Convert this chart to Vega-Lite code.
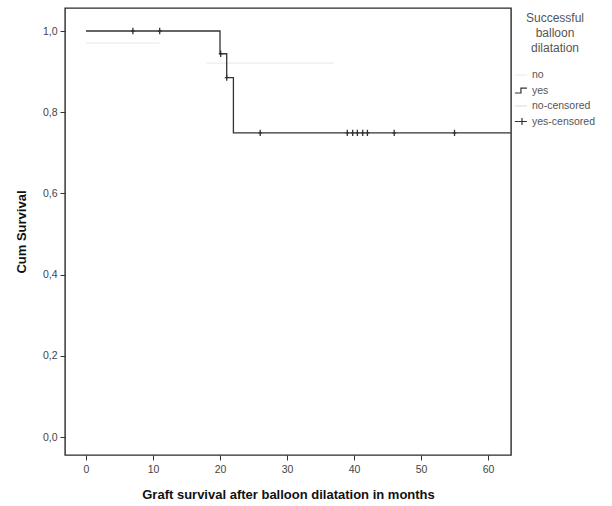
{
  "$schema": "https://vega.github.io/schema/vega-lite/v6.json",
  "width": 446,
  "height": 447,
  "autosize": "none",
  "padding": {"left": 65, "top": 8, "right": 101, "bottom": 51},
  "background": "white",
  "config": {
    "view": {"stroke": "#2a2a2a", "strokeWidth": 1.4},
    "font": "Liberation Sans",
    "axis": {"grid": false, "domain": false, "tickColor": "#333333", "tickSize": 5, "labelColor": "#444444", "labelFontSize": 10.5, "titleFontSize": 13, "titleFontWeight": "bold", "titleColor": "#111111"}
  },
  "datasets": {
    "steps": [
      {"series": "no", "t": 0, "s": 0.97, "seg": "a"},
      {"series": "no", "t": 11, "s": 0.97, "seg": "a"},
      {"series": "no", "t": 18, "s": 0.921, "seg": "b"},
      {"series": "no", "t": 37, "s": 0.921, "seg": "b"},
      {"series": "yes", "t": 0, "s": 1.0, "seg": "c"},
      {"series": "yes", "t": 20, "s": 0.944, "seg": "c"},
      {"series": "yes", "t": 21, "s": 0.885, "seg": "c"},
      {"series": "yes", "t": 22, "s": 0.749, "seg": "c"},
      {"series": "yes", "t": 63.4, "s": 0.749, "seg": "c"}
    ],
    "censored": [
      {"series": "yes-censored", "t": 7, "s": 1.0},
      {"series": "yes-censored", "t": 11, "s": 1.0},
      {"series": "yes-censored", "t": 20.1, "s": 0.944},
      {"series": "yes-censored", "t": 21, "s": 0.885},
      {"series": "yes-censored", "t": 26, "s": 0.749},
      {"series": "yes-censored", "t": 39, "s": 0.749},
      {"series": "yes-censored", "t": 39.8, "s": 0.749},
      {"series": "yes-censored", "t": 40.5, "s": 0.749},
      {"series": "yes-censored", "t": 41.3, "s": 0.749},
      {"series": "yes-censored", "t": 42, "s": 0.749},
      {"series": "yes-censored", "t": 46, "s": 0.749},
      {"series": "yes-censored", "t": 55, "s": 0.749}
    ]
  },
  "layer": [
    {
      "data": {"name": "steps"},
      "mark": {"type": "line", "interpolate": "step-after", "strokeWidth": 1.3, "clip": true},
      "encoding": {
        "x": {"field": "t", "type": "quantitative", "scale": {"domain": [-3.134, 63.43], "nice": false, "zero": false},
          "axis": {"values": [0, 10, 20, 30, 40, 50, 60], "title": "Graft survival after balloon dilatation in months", "titlePadding": 14, "labelPadding": 4}},
        "y": {"field": "s", "type": "quantitative", "scale": {"domain": [-0.0443, 1.0567], "nice": false, "zero": false},
          "axis": {"values": [0, 0.2, 0.4, 0.6, 0.8, 1.0], "labelExpr": "replace(format(datum.value, '.1f'), '.', ',')", "title": "Cum Survival", "titlePadding": 14, "labelPadding": 3}},
        "detail": {"field": "seg"},
        "stroke": {"field": "series", "type": "nominal",
          "scale": {"domain": ["no", "yes", "no-censored", "yes-censored"], "range": ["#ececec", "#333333", "#e0e0e0", "#333333"]},
          "legend": {
            "title": ["Successful", "balloon", "dilatation"],
            "orient": "none", "legendX": 449, "legendY": 5,
            "titleAnchor": "middle", "titleAlign": "center", "titleFontWeight": "normal", "titleFontSize": 12, "titleColor": "#555555", "titleLineHeight": 15, "titlePadding": 12,
            "labelFontSize": 10.5, "labelColor": "#555555", "labelOffset": 2,
            "symbolSize": 200, "symbolStrokeWidth": 1.2, "symbolFillColor": "transparent", "rowPadding": 1.5,
            "encode": {"symbols": {"update": {"shape": {"signal": "datum.value === 'yes' ? 'M-1,0.35H-0.15V-0.35H0.7' : (datum.value === 'yes-censored' ? 'M-1,0H0.7M0,-0.5V0.5' : 'M-1,0H0.7')"}}}}
          }}
      }
    },
    {
      "data": {"name": "censored"},
      "mark": {"type": "point", "shape": "M0,-1V1M-0.6,0H0.6", "filled": false, "size": 40, "strokeWidth": 1.3, "opacity": 1},
      "encoding": {
        "x": {"field": "t", "type": "quantitative"},
        "y": {"field": "s", "type": "quantitative"},
        "stroke": {"field": "series", "type": "nominal"}
      }
    }
  ]
}
